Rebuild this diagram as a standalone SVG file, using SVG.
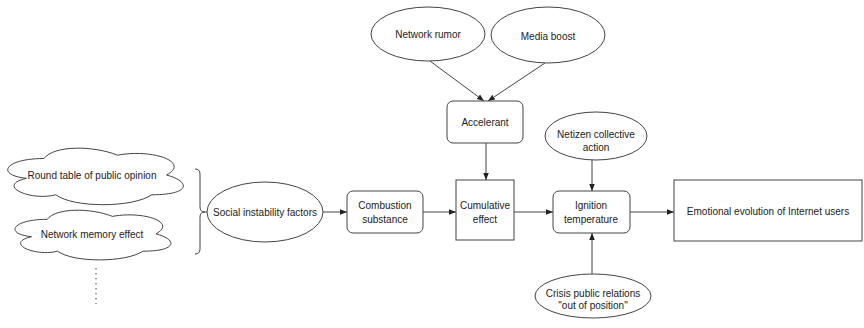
<svg xmlns="http://www.w3.org/2000/svg" width="864" height="328" viewBox="0 0 864 328">
<defs>
<marker id="ah" viewBox="0 0 10 10" refX="10" refY="5" markerWidth="7" markerHeight="7" orient="auto" markerUnits="userSpaceOnUse">
<path d="M0,1 L10,5 L0,9 Z" fill="#222"/>
</marker>
<style>
.s{fill:#fff;stroke:#444;stroke-width:1}
.t{font-family:"Liberation Sans",Arial,sans-serif;font-size:10px;fill:#222;text-anchor:middle;dominant-baseline:central}
.c{fill:none;stroke:#444;stroke-width:1;marker-end:url(#ah)}
</style>
</defs>
<rect width="864" height="328" fill="#fff"/>
<g id="connectors">
<line class="c" x1="430" y1="61" x2="484" y2="101"/>
<line class="c" x1="545" y1="63" x2="488" y2="101"/>
<line class="c" x1="486" y1="143" x2="486" y2="180"/>
<line class="c" x1="322" y1="212" x2="347" y2="212"/>
<line class="c" x1="423" y1="212" x2="456" y2="212"/>
<line class="c" x1="514" y1="212" x2="553" y2="212"/>
<line class="c" x1="630" y1="212" x2="674" y2="212"/>
<line class="c" x1="592" y1="160" x2="592" y2="191"/>
<line class="c" x1="592" y1="274" x2="592" y2="233"/>
<path d="M195,169 Q200,169 200,174 L200,207 Q200,212 205,212 Q200,212 200,217 L200,249 Q200,254 195,254" fill="none" stroke="#444"/>
<line x1="207" y1="212" x2="205" y2="212" stroke="#444"/>
<line x1="96" y1="268" x2="96" y2="304" stroke="#444" stroke-dasharray="1.5,3.5"/>
</g>
<g id="round-table">
<path class="s" d="M44,158.5 C4.8,158.5 -5,175 26.4,178.3 C-5,185.6 30.3,201.4 55.8,194.8 C73.4,208 132.2,208 151.8,194.8 C191,194.8 191,181.6 166.5,175 C191,161.8 151.8,148.6 117.5,155.2 C93,145.3 53.8,145.3 44,158.5 Z"/>
<text class="t" x="92" y="175">Round table of public opinion</text>
</g>
<g id="memory-effect">
<path class="s" d="M47.2,219.3 C12.4,219.3 3.7,233.8 31.5,236.7 C3.7,243.1 35,257 57.6,251.2 C73.3,262.8 125.5,262.8 142.9,251.2 C177.7,251.2 177.7,239.6 155.95,233.8 C177.7,222.2 142.9,210.6 112.5,216.4 C90.7,207.7 55.9,207.7 47.2,219.3 Z"/>
<text class="t" x="92" y="234">Network memory effect</text>
</g>
<g id="social">
<ellipse class="s" cx="265" cy="212" rx="58" ry="30"/>
<text class="t" x="265" y="212">Social instability factors</text>
</g>
<g id="combustion">
<rect class="s" x="347" y="191" width="76" height="42" rx="6"/>
<text class="t" x="385" y="205">Combustion</text>
<text class="t" x="385" y="219">substance</text>
</g>
<g id="rumor">
<ellipse class="s" cx="428" cy="34" rx="57" ry="27"/>
<text class="t" x="428" y="34">Network rumor</text>
</g>
<g id="media">
<ellipse class="s" cx="548" cy="35" rx="57" ry="28"/>
<text class="t" x="548" y="36">Media boost</text>
</g>
<g id="accelerant">
<rect class="s" x="447" y="101" width="76" height="42" rx="6"/>
<text class="t" x="485" y="122">Accelerant</text>
</g>
<g id="cumulative">
<rect class="s" x="456" y="180" width="58" height="60"/>
<text class="t" x="485" y="205">Cumulative</text>
<text class="t" x="485" y="219">effect</text>
</g>
<g id="netizen">
<ellipse class="s" cx="596" cy="136" rx="51" ry="24"/>
<text class="t" x="596" y="134">Netizen collective</text>
<text class="t" x="596" y="147">action</text>
</g>
<g id="ignition">
<rect class="s" x="553" y="191" width="77" height="42" rx="6"/>
<text class="t" x="591" y="205">Ignition</text>
<text class="t" x="591" y="219">temperature</text>
</g>
<g id="crisis">
<ellipse class="s" cx="593" cy="296" rx="58" ry="22"/>
<text class="t" x="593" y="293">Crisis public relations</text>
<text class="t" x="593" y="305">"out of position"</text>
</g>
<g id="emotional">
<rect class="s" x="674" y="180" width="188" height="61"/>
<text class="t" x="768" y="211">Emotional evolution of Internet users</text>
</g>
</svg>
